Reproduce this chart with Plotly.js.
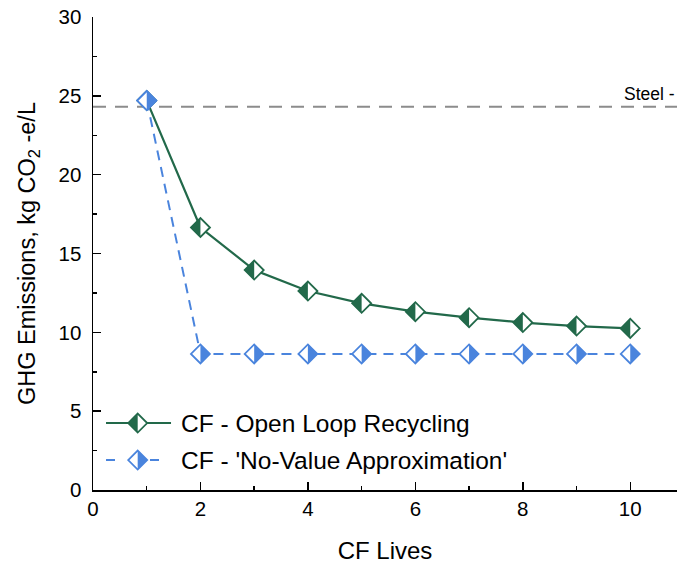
<!DOCTYPE html>
<html><head><meta charset="utf-8">
<script src="https://cdn.plot.ly/plotly-3.0.1.min.js"></script>
<style>html,body{margin:0;padding:0;background:#fff}#chart{width:677px;height:565px}</style>
</head><body><div id="chart"></div>
<script>
// ---- data ----
const lives = [1, 2, 3, 4, 5, 6, 7, 8, 9, 10];
const openLoop = [24.7, 16.65, 13.95, 12.62, 11.84, 11.31, 10.93, 10.62, 10.4, 10.25];
const noValue = [24.7, 8.63, 8.63, 8.63, 8.63, 8.63, 8.63, 8.63, 8.63, 8.63];
const steelValue = 24.3;
const steelLabel = 'Steel -';
const seriesNames = ['CF - Open Loop Recycling', "CF - 'No-Value Approximation'"];
const xTickVals = [0, 2, 4, 6, 8, 10];
const yTickVals = [0, 5, 10, 15, 20, 25, 30];

// ---- styles ----
const GREEN = '#22694a';
const BLUE = '#4a84dd';
const FONT = 'Arial, "Liberation Sans", sans-serif';
const D = 9.5; // half diagonal of diamond (px)
const leftHalf = `M${-D},0L0,${D}L0,${-D}Z`;
const rightHalf = `M${D},0L0,${D}L0,${-D}Z`;
const fullDiamond = `M${-D},0L0,${D}L${D},0L0,${-D}Z`;
const MSIZE = 2 * D / 1.3;

const traces = [
  {x: lives, y: openLoop, name: seriesNames[0], type: 'scatter', mode: 'lines+markers',
   line: {color: GREEN, width: 2.2},
   marker: {symbol: 'diamond', size: MSIZE, color: '#ffffff', line: {color: GREEN, width: 1.8}},
   showlegend: false},
  {x: lives, y: noValue, name: seriesNames[1], type: 'scatter', mode: 'lines+markers',
   line: {color: BLUE, width: 2, dash: '10px,7px'},
   marker: {symbol: 'diamond', size: MSIZE, color: '#ffffff', line: {color: BLUE, width: 1.8}},
   showlegend: false}
];

const shapes = [];
// steel reference line
shapes.push({type: 'line', xref: 'paper', yref: 'y', x0: 0, x1: 1, y0: steelValue, y1: steelValue,
  line: {color: '#8c8c8c', width: 2, dash: '13px,9px'}, layer: 'below'});
// half fills for data markers
lives.forEach((xv, i) => {
  shapes.push({type: 'path', xref: 'x', yref: 'y', xsizemode: 'pixel', ysizemode: 'pixel',
    xanchor: xv, yanchor: openLoop[i], path: leftHalf, fillcolor: GREEN, line: {width: 0}});
});
lives.forEach((xv, i) => {
  if (noValue[i] === openLoop[i]) {
    shapes.push({type: 'path', xref: 'x', yref: 'y', xsizemode: 'pixel', ysizemode: 'pixel',
      xanchor: xv, yanchor: noValue[i], path: fullDiamond, fillcolor: '#ffffff', line: {color: BLUE, width: 1.8}});
  }
  shapes.push({type: 'path', xref: 'x', yref: 'y', xsizemode: 'pixel', ysizemode: 'pixel',
    xanchor: xv, yanchor: noValue[i], path: rightHalf, fillcolor: BLUE, line: {width: 0}});
});

// ---- manual legend (paper coords) ----
const legY = [0.1416, 0.0634];
const legLineX = [0.0223, 0.1336];
const legMarkX = 0.0765;
const legTextX = 0.147;
shapes.push({type: 'line', xref: 'paper', yref: 'paper', x0: legLineX[0], x1: legLineX[1], y0: legY[0], y1: legY[0],
  line: {color: GREEN, width: 2.2}});
shapes.push({type: 'path', xref: 'paper', yref: 'paper', xsizemode: 'pixel', ysizemode: 'pixel',
  xanchor: legMarkX, yanchor: legY[0], path: fullDiamond, fillcolor: '#ffffff', line: {color: GREEN, width: 1.8}});
shapes.push({type: 'path', xref: 'paper', yref: 'paper', xsizemode: 'pixel', ysizemode: 'pixel',
  xanchor: legMarkX, yanchor: legY[0], path: leftHalf, fillcolor: GREEN, line: {width: 0}});
shapes.push({type: 'line', xref: 'paper', yref: 'paper', x0: 0.0223, x1: 0.0377, y0: legY[1], y1: legY[1],
  line: {color: BLUE, width: 2}});
shapes.push({type: 'line', xref: 'paper', yref: 'paper', x0: 0.0976, x1: 0.113, y0: legY[1], y1: legY[1],
  line: {color: BLUE, width: 2}});
shapes.push({type: 'path', xref: 'paper', yref: 'paper', xsizemode: 'pixel', ysizemode: 'pixel',
  xanchor: legMarkX, yanchor: legY[1], path: fullDiamond, fillcolor: '#ffffff', line: {color: BLUE, width: 1.8}});
shapes.push({type: 'path', xref: 'paper', yref: 'paper', xsizemode: 'pixel', ysizemode: 'pixel',
  xanchor: legMarkX, yanchor: legY[1], path: rightHalf, fillcolor: BLUE, line: {width: 0}});

const annotations = [
  {xref: 'paper', yref: 'paper', x: legTextX, y: legY[0], xanchor: 'left', yanchor: 'middle',
   text: seriesNames[0], showarrow: false, font: {family: FONT, size: 24.5, color: '#000'}},
  {xref: 'paper', yref: 'paper', x: legTextX, y: legY[1], xanchor: 'left', yanchor: 'middle',
   text: seriesNames[1], showarrow: false, font: {family: FONT, size: 24.5, color: '#000'}},
  {xref: 'paper', yref: 'y', x: 1, y: steelValue, xanchor: 'right', yanchor: 'bottom', yshift: 1,
   text: steelLabel, showarrow: false, font: {family: FONT, size: 17.5, color: '#000'}}
];

const axisCommon = {
  showline: true, linecolor: '#000', linewidth: 1.5, mirror: false,
  ticks: 'inside', ticklen: 8, tickwidth: 1.5, tickcolor: '#000',
  showgrid: false, zeroline: false,
  tickfont: {family: FONT, size: 20.5, color: '#000'}
};

const layout = {
  width: 677, height: 565,
  margin: {l: 93, r: 0, t: 17, b: 75, pad: 0},
  paper_bgcolor: '#fff', plot_bgcolor: '#fff',
  showlegend: false,
  font: {family: FONT, color: '#000'},
  xaxis: Object.assign({}, axisCommon, {
    range: [0, 10.87], tickvals: xTickVals, ticktext: xTickVals.map(String),
    minor: {dtick: 1, tick0: 0, ticks: 'inside', ticklen: 4, tickwidth: 1.5, tickcolor: '#000'},
    title: {text: 'CF Lives', font: {family: FONT, size: 24, color: '#000'}, standoff: 23}
  }),
  yaxis: Object.assign({}, axisCommon, {
    range: [0, 30], tickvals: yTickVals, ticktext: yTickVals.map(String),
    minor: {dtick: 2.5, tick0: 0, ticks: 'inside', ticklen: 4, tickwidth: 1.5, tickcolor: '#000'},
    ticklabelstandoff: 6,
    title: {text: 'GHG Emissions, kg CO<sub>2</sub> -e/L', font: {family: FONT, size: 23.5, color: '#000'}, standoff: 16}
  }),
  shapes: shapes,
  annotations: annotations
};

Plotly.newPlot('chart', traces, layout, {displayModeBar: false, staticPlot: true});
</script>
</body></html>
